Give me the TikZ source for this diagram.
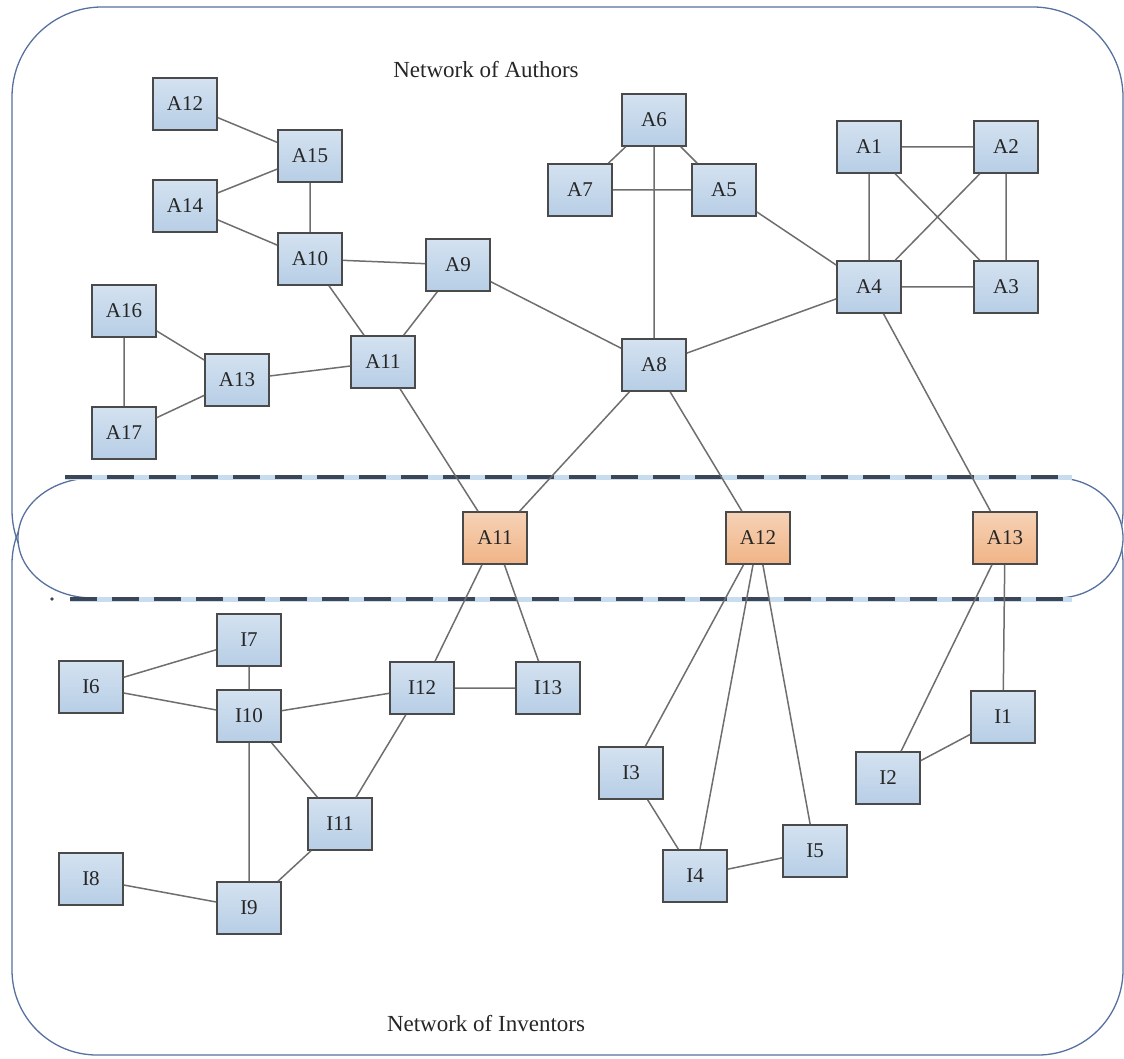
\documentclass[tikz,border=0pt]{standalone}
\usepackage{fontspec}
\setmainfont{Liberation Serif}
\usepackage{tikz}
\definecolor{framecol}{HTML}{5670A0}
\definecolor{dashcol}{HTML}{3C4656}
\definecolor{glowcol}{HTML}{C8DCF0}
\definecolor{edgecol}{HTML}{6E6E6E}
\definecolor{boxline}{HTML}{4A4A4A}
\definecolor{blueish}{HTML}{B7CEE6}
\definecolor{orangish}{HTML}{F0B486}
\tikzset{
    person/.style={rectangle, draw=boxline, line width=1.6pt, minimum width=64pt, minimum height=52pt,
        top color=#1!60!white, bottom color=#1, font=\fontsize{21}{21}\selectfont, text=black!85},
    person/.default={blueish},
    link/.style={draw=edgecol, line width=1.5pt},
    title/.style={font=\fontsize{23}{24}\selectfont, text=black!85}
}
\newcommand{\borderline}[1]{
    \draw[glowcol, line width=5pt] #1;
    \draw[dashcol, line width=3.5pt, dash pattern=on 27pt off 15pt] #1;
}

\begin{document}
\begin{tikzpicture}[x=1pt, y=-1pt]
        \useasboundingbox (0,0) rectangle (1124,1059);
        \draw[framecol, line width=1.3pt, rounded corners=90pt] (12,7) rectangle (1123,600);
        \draw[framecol, line width=1.3pt, rounded corners=85pt] (12,479) rectangle (1123,1055);
        \filldraw[draw=framecol, fill=white, line width=1.3pt]
            (93,478) -- (1057,478) .. controls (1093.5,478) and (1123,504.9) .. (1123,538)
            .. controls (1123,571.1) and (1093.5,598) .. (1057,598) -- (93,598)
            .. controls (51.6,598) and (18,571.1) .. (18,538)
            .. controls (18,504.9) and (51.6,478) .. (93,478) -- cycle;
        \borderline{(65,477) -- (1072,477)}
        \borderline{(70,599) -- (1072,599)}
        \fill[dashcol] (52,599) circle (1.8pt);

        \node[title] (authors) at (486,70) {Network of Authors};
        \node[title] (inventors) at (486,1024) {Network of Inventors};

        \node[person] (a12) at (185,104) {A12};
        \node[person] (a15) at (310,156) {A15};
        \node[person] (a14) at (185,206) {A14};
        \node[person] (a10) at (310,259) {A10};
        \node[person] (a9) at (458,265) {A9};
        \node[person] (a11) at (383,362) {A11};
        \node[person] (a16) at (124,311) {A16};
        \node[person] (a13) at (237,380) {A13};
        \node[person] (a17) at (124,433) {A17};
        \node[person] (a6) at (654,120) {A6};
        \node[person] (a7) at (580,190) {A7};
        \node[person] (a5) at (724,190) {A5};
        \node[person] (a8) at (654,365) {A8};
        \node[person] (a1) at (869,147) {A1};
        \node[person] (a2) at (1006,147) {A2};
        \node[person] (a4) at (869,287) {A4};
        \node[person] (a3) at (1006,287) {A3};

        \node[person=orangish] (b11) at (495,538) {A11};
        \node[person=orangish] (b12) at (758,538) {A12};
        \node[person=orangish] (b13) at (1005,538) {A13};

        \node[person] (i7) at (249,640) {I7};
        \node[person] (i6) at (91,687) {I6};
        \node[person] (i10) at (249,716) {I10};
        \node[person] (i12) at (422,688) {I12};
        \node[person] (i13) at (548,688) {I13};
        \node[person] (i11) at (340,824) {I11};
        \node[person] (i8) at (91,879) {I8};
        \node[person] (i9) at (249,908) {I9};
        \node[person] (i3) at (631,773) {I3};
        \node[person] (i4) at (695,876) {I4};
        \node[person] (i5) at (815,851) {I5};
        \node[person] (i2) at (888,778) {I2};
        \node[person] (i1) at (1003,717) {I1};

        \path[link]
            (a12) -- (a15) -- (a14) -- (a10) -- (a15)
            (a10) -- (a9) -- (a11) -- (a10)
            (a16) -- (a13) -- (a17) -- (a16)
            (a13) -- (a11) -- (b11) -- (a8) -- (a9)
            (a8) -- (b12)
            (a6) -- (a7) -- (a5) -- (a6) -- (a8) -- (a4) -- (a5)
            (a1) -- (a2) -- (a3) -- (a4) -- (a1) -- (a3)
            (a2) -- (a4) -- (b13) -- (i1) -- (i2) -- (b13)
            (b11) -- (i12) -- (i13) -- (b11)
            (b12) -- (i3) -- (i4) -- (i5) -- (b12) -- (i4)
            (i6) -- (i7) -- (i10) -- (i6)
            (i10) -- (i12) -- (i11) -- (i10) -- (i9) -- (i11)
            (i8) -- (i9);
    \end{tikzpicture}
\end{document}
